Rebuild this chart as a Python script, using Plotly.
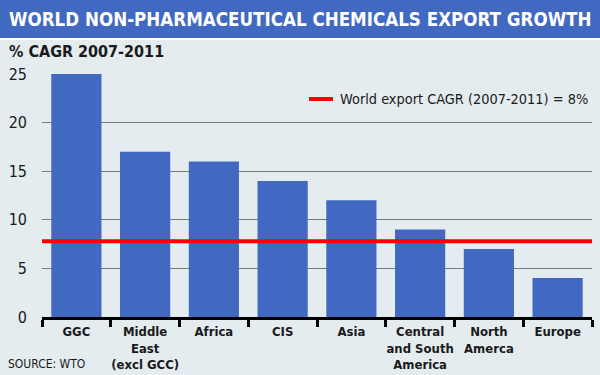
import plotly.graph_objects as go

categories = ["GGC", "Middle<br>East<br>(excl GCC)", "Africa", "CIS", "Asia",
              "Central<br>and South<br>America", "North<br>Amerca", "Europe"]
values = [25, 17, 16, 14, 12, 9, 7, 4]
world_cagr = 7.8
y_ticks = [0, 5, 10, 15, 20, 25]

FONT = "DejaVu Sans Condensed"
BG = "#E4ECF0"
BLUE = "#4169C1"
INK = "#1a1a1a"

L, R, T, B = 42, 8, 74, 58
PW, PH = 600 - L - R, 375 - T - B
def px(x): return (x - L) / PW
def py(y): return (375 - B - y) / PH

fig = go.Figure()
fig.add_trace(go.Bar(x=categories, y=values, marker=dict(color=BLUE, line=dict(width=0)),
                     width=0.73, showlegend=False, hoverinfo="x+y"))

fig.add_shape(type="line", xref="x domain", yref="y", x0=0, x1=1, y0=world_cagr, y1=world_cagr,
              line=dict(color="#FF0000", width=4), layer="above")

fig.add_shape(type="rect", xref="paper", yref="paper", x0=px(0), x1=px(600), y0=py(0), y1=py(38),
              fillcolor=BLUE, line=dict(width=0), layer="below")
fig.add_shape(type="rect", xref="paper", yref="paper", x0=px(0), x1=px(600), y0=py(38), y1=py(40),
              fillcolor="white", line=dict(width=0), layer="below")

fig.add_annotation(xref="paper", yref="paper", x=px(7), y=py(19), xanchor="left", yanchor="middle",
                   text="<b>WORLD NON-PHARMACEUTICAL CHEMICALS EXPORT GROWTH</b>", showarrow=False,
                   font=dict(family=FONT, size=18.6, color="white"))
fig.add_annotation(xref="paper", yref="paper", x=px(7), y=py(51), xanchor="left", yanchor="middle",
                   text="<b>% CAGR 2007-2011</b>", showarrow=False,
                   font=dict(family=FONT, size=16, color=INK))
fig.add_annotation(xref="paper", yref="paper", x=px(6), y=py(364), xanchor="left", yanchor="middle",
                   text="SOURCE: WTO", showarrow=False,
                   font=dict(family=FONT, size=12, color=INK))

fig.add_shape(type="line", xref="paper", yref="paper", x0=px(309), x1=px(333), y0=py(99), y1=py(99),
              line=dict(color="#FF0000", width=4))
fig.add_annotation(xref="paper", yref="paper", x=px(338), y=py(99), xanchor="left", yanchor="middle",
                   text="World export CAGR (2007-2011) = 8%", showarrow=False,
                   font=dict(family=FONT, size=14.4, color=INK))

fig.update_layout(
    width=600, height=375, margin=dict(l=L, r=R, t=T, b=B, pad=0),
    paper_bgcolor=BG, plot_bgcolor=BG, bargap=0.27,
    font=dict(family=FONT, color=INK),
    xaxis=dict(type="category", showline=True, linecolor="black", linewidth=3,
               ticks="outside", tickson="boundaries", ticklen=7, tickwidth=3, tickcolor="black",
               tickangle=0, automargin=False,
               tickfont=dict(family=FONT, size=13, color=INK, weight="bold"),
               showgrid=False, fixedrange=True),
    yaxis=dict(range=[0, 25], tickvals=y_ticks, showgrid=True, gridcolor="#7a7a7a", gridwidth=1,
               zeroline=False, showline=False, ticks="", ticklabelstandoff=14, automargin=False,
               tickfont=dict(family=FONT, size=16, color=INK), fixedrange=True),
)

fig.write_html("out.html", config={"displayModeBar": False},
               post_script="document.body.style.margin='0';document.body.style.overflow='hidden';")
